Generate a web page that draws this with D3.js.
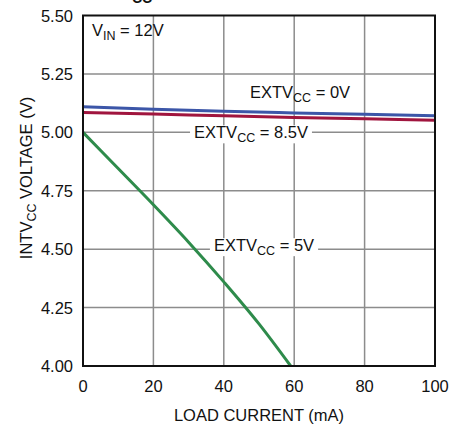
<!DOCTYPE html>
<html lang="en">
<head>
<meta charset="utf-8">
<title>INTVCC Load Regulation</title>
<script src="https://d3js.org/d3.v7.min.js"></script>
<style>
  body { margin: 0; background: #fff; }
  svg text { font-family: "Liberation Sans", Arial, sans-serif; fill: #111; }
</style>
</head>
<body>
<script>
// data
var xTicks = [0, 20, 40, 60, 80, 100];
var yTicks = [4.00, 4.25, 4.50, 4.75, 5.00, 5.25, 5.50];

var loadMA   = [0, 20, 40, 60, 80, 100];
var ext0V    = [5.110, 5.099, 5.090, 5.083, 5.077, 5.071];
var ext85V   = [5.085, 5.078, 5.071, 5.064, 5.058, 5.052];

var loadMA5V = [0, 10, 20, 30, 40, 50, 59];
var ext5V    = [5.00, 4.845, 4.69, 4.53, 4.36, 4.18, 4.00];

var W = 464, H = 425;
var m = { left: 83, right: 435, top: 15.5, bottom: 366 };
var fs = "16.5px", fsSub = "12.5px";

var svg = d3.select("body").append("svg")
  .attr("width", W)
  .attr("height", H);

var x = d3.scaleLinear().domain([0, 100]).range([m.left, m.right]);
var y = d3.scaleLinear().domain([4, 5.5]).range([m.bottom, m.top]);

// title is cut off above the picture, only the bottom of its subscript shows
svg.append("text").attr("x", 132).attr("y", 3)
  .style("font-weight", "bold").style("font-size", "14px").text("CC");

// grid
svg.append("g").selectAll("line").data(xTicks.slice(1, -1)).enter().append("line")
  .attr("x1", d => x(d)).attr("x2", d => x(d))
  .attr("y1", m.top).attr("y2", m.bottom)
  .attr("stroke", "#8c8c8c").attr("stroke-width", 1.5);
svg.append("g").selectAll("line").data(yTicks.slice(1, -1)).enter().append("line")
  .attr("y1", d => y(d)).attr("y2", d => y(d))
  .attr("x1", m.left).attr("x2", m.right)
  .attr("stroke", "#8c8c8c").attr("stroke-width", 1.5);

// tick labels
svg.append("g").selectAll("text").data(xTicks).enter().append("text")
  .attr("x", d => x(d)).attr("y", 392)
  .attr("text-anchor", "middle").style("font-size", fs)
  .text(d => d);
svg.append("g").selectAll("text").data(yTicks).enter().append("text")
  .attr("x", 73).attr("y", d => y(d) + 6)
  .attr("text-anchor", "end").style("font-size", fs)
  .text(d => d.toFixed(2));

// axis titles
svg.append("text").attr("x", x(50)).attr("y", 421)
  .attr("text-anchor", "middle").style("font-size", fs)
  .text("LOAD CURRENT (mA)");

var yt = svg.append("text")
  .attr("transform", "translate(32,178) rotate(-90)")
  .attr("text-anchor", "middle").style("font-size", fs);
yt.append("tspan").text("INTV");
yt.append("tspan").attr("dy", 4).style("font-size", fsSub).text("CC");
yt.append("tspan").attr("dy", -4).text(" VOLTAGE (V)");

// lines
var line = d3.line().curve(d3.curveMonotoneX);
function draw(xs, ys, color) {
  svg.append("path")
    .datum(xs.map((d, i) => [x(d), y(ys[i])]))
    .attr("d", line)
    .attr("fill", "none")
    .attr("stroke", color)
    .attr("stroke-width", 3);
}
draw(loadMA5V, ext5V, "#2e8b4b");
draw(loadMA, ext85V, "#a0153e");
draw(loadMA, ext0V, "#3c56a8");

// labels
function label(xc, yc, sub, tail, bg) {
  var g = svg.append("g");
  var t = g.append("text").attr("x", xc).attr("y", yc)
    .attr("text-anchor", "middle").style("font-size", fs);
  t.append("tspan").text(sub[0]);
  t.append("tspan").attr("dy", 4).style("font-size", fsSub).text(sub[1]);
  t.append("tspan").attr("dy", -4).text(tail);
  if (bg) {
    var b = t.node().getBBox();
    g.insert("rect", "text")
      .attr("x", b.x - 4).attr("y", b.y + 2)
      .attr("width", b.width + 8).attr("height", b.height - 4)
      .attr("fill", "#fff");
  }
  return t;
}
label(300, 98, ["EXTV", "CC"], " = 0V", false);
label(251, y(5.0) + 6, ["EXTV", "CC"], " = 8.5V", true);
label(264, y(4.5) + 2, ["EXTV", "CC"], " = 5V", true);

var vin = svg.append("text").attr("x", 92).attr("y", 36).style("font-size", fs);
vin.append("tspan").text("V");
vin.append("tspan").attr("dy", 4).style("font-size", fsSub).text("IN");
vin.append("tspan").attr("dy", -4).text(" = 12V");

// frame
svg.append("rect")
  .attr("x", m.left).attr("y", m.top)
  .attr("width", m.right - m.left).attr("height", m.bottom - m.top)
  .attr("fill", "none").attr("stroke", "#111").attr("stroke-width", 2);
</script>
</body>
</html>
